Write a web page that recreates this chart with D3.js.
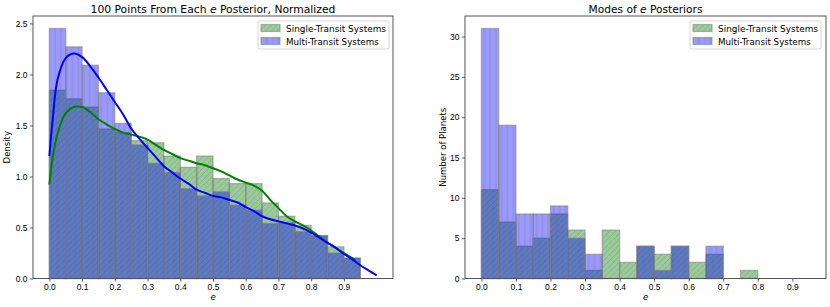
<!DOCTYPE html>
<html>
<head>
<meta charset="utf-8">
<script src="https://cdn.jsdelivr.net/npm/d3@7"></script>
<style>
  body { margin: 0; background: #fff; }
  svg { font-family: "DejaVu Sans", sans-serif; }
</style>
</head>
<body>
<script>
'use strict';

// bins of width 0.05 starting at 0
const binEdges = d3.range(0, 19).map((i) => i * 0.05);
const binWidth = 0.05;

// left panel: density of 100 posterior draws per planet
const densitySingle = [1.845, 1.76, 1.68, 1.465, 1.43, 1.35, 1.33, 1.20, 1.09, 1.20, 0.98, 0.93, 0.93, 0.74, 0.61, 0.52, 0.42, 0.31, 0.20];
const densityMulti = [2.45, 2.27, 2.09, 1.82, 1.52, 1.31, 1.13, 1.04, 0.88, 0.81, 0.85, 0.72, 0.67, 0.54, 0.55, 0.46, 0.42, 0.25, 0.20];

// kde curves
const kdeMultiE = [0, 0.01, 0.025, 0.05, 0.075, 0.1, 0.125, 0.15, 0.175, 0.2, 0.225, 0.25, 0.275, 0.3, 0.325, 0.35, 0.375, 0.4, 0.425, 0.45, 0.475, 0.5, 0.525, 0.55, 0.575, 0.6, 0.625, 0.65, 0.675, 0.7, 0.725, 0.75, 0.775, 0.8, 0.825, 0.85, 0.875, 0.9, 0.925, 0.95, 0.975, 1.0];
const kdeMultiY = [1.20, 1.55, 1.95, 2.16, 2.205, 2.17, 2.08, 1.97, 1.85, 1.73, 1.61, 1.47, 1.37, 1.28, 1.19, 1.10, 1.04, 0.98, 0.93, 0.87, 0.84, 0.81, 0.795, 0.77, 0.745, 0.70, 0.66, 0.61, 0.58, 0.56, 0.54, 0.52, 0.49, 0.45, 0.40, 0.35, 0.30, 0.24, 0.19, 0.13, 0.08, 0.03];
const kdeSingleE = [0, 0.01, 0.025, 0.05, 0.075, 0.1, 0.125, 0.15, 0.175, 0.2, 0.225, 0.25, 0.275, 0.3, 0.325, 0.35, 0.375, 0.4, 0.425, 0.45, 0.475, 0.5, 0.525, 0.55, 0.575, 0.6, 0.625, 0.65, 0.675, 0.7, 0.725, 0.75, 0.775, 0.8, 0.825, 0.85, 0.875, 0.9, 0.925, 0.935];
const kdeSingleY = [0.92, 1.18, 1.42, 1.62, 1.68, 1.68, 1.63, 1.56, 1.51, 1.465, 1.43, 1.41, 1.39, 1.36, 1.31, 1.26, 1.22, 1.18, 1.155, 1.13, 1.11, 1.08, 1.05, 1.01, 0.97, 0.94, 0.91, 0.86, 0.77, 0.69, 0.61, 0.56, 0.52, 0.47, 0.41, 0.35, 0.30, 0.25, 0.20, 0.18];

// right panel: counts of posterior modes
const countSingle = [11, 7, 4, 5, 8, 6, 1, 6, 2, 4, 3, 4, 2, 3, 0, 1, 0, 0, 0];
const countMulti = [31, 19, 8, 8, 9, 5, 3, 0, 0, 4, 1, 4, 0, 4, 0, 0, 0, 0, 0];

const xTicks = d3.range(0, 10).map((i) => i / 10);
const densityTicks = [0, 0.5, 1.0, 1.5, 2.0, 2.5];
const countTicks = [0, 5, 10, 15, 20, 25, 30];
const legendLabels = ["Single-Transit Systems", "Multi-Transit Systems"];

(function () {
  const svg = d3.select('body').append('svg')
    .attr('width', 830)
    .attr('height', 307);

  // hatch patterns
  const defs = svg.append('defs');
  const step = 5.8;
  defs.append('pattern')
    .attr('id', 'hatchDiag')
    .attr('patternUnits', 'userSpaceOnUse')
    .attr('width', step).attr('height', step)
    .append('path')
    .attr('d', `M${-step / 2},${step / 2} L${step / 2},${-step / 2} M0,${step} L${step},0 M${step / 2},${step * 1.5} L${step * 1.5},${step / 2}`)
    .attr('stroke', 'gray')
    .attr('stroke-opacity', 0.5)
    .attr('stroke-width', 0.9);
  defs.append('pattern')
    .attr('id', 'hatchVert')
    .attr('patternUnits', 'userSpaceOnUse')
    .attr('width', step).attr('height', step)
    .append('path')
    .attr('d', `M${step / 2},0 V${step}`)
    .attr('stroke', 'gray')
    .attr('stroke-opacity', 0.5)
    .attr('stroke-width', 0.9);

  const styles = [
    { color: 'green', hatch: 'url(#hatchDiag)' },
    { color: 'blue', hatch: 'url(#hatchVert)' }
  ];

  // left panel
  let left = makeAxes({
    x0: 33, x1: 393, y0: 16, y1: 278.5,
    xDomain: [-0.05, 1.05], yDomain: [0, 2.45 * 1.05],
    yTicks: densityTicks, yFormat: d3.format('.1f'),
    ylabel: 'Density', ylabelX: 7,
    titleParts: ['100 Points From Each ', 'e', ' Posterior, Normalized'],
    titleWidth: 245
  });
  drawHist(left, densitySingle, styles[0]);
  drawHist(left, densityMulti, styles[1]);
  drawKde(left, kdeSingleE, kdeSingleY, 'green');
  drawKde(left, kdeMultiE, kdeMultiY, 'blue');
  drawFrame(left);
  drawLegend(left.g, 258, 21);

  // right panel
  let right = makeAxes({
    x0: 465, x1: 826, y0: 16, y1: 278.5,
    xDomain: [-0.0475, 0.9975], yDomain: [0, 31 * 1.05],
    yTicks: countTicks, yFormat: d3.format('d'),
    ylabel: 'Number of Planets', ylabelX: 443,
    titleParts: ['Modes of ', 'e', ' Posteriors'],
    titleWidth: 114
  });
  drawHist(right, countSingle, styles[0]);
  drawHist(right, countMulti, styles[1]);
  drawFrame(right);
  drawLegend(right.g, 690, 21);

  // shrink or grow a text so it spans the width seen in the picture
  function fitWidth(text, size, target) {
    text.style('font-size', size + 'px');
    let len = text.node().getComputedTextLength();
    if (len > 0) {
      text.style('font-size', (size * target / len).toFixed(2) + 'px');
    }
  }

  function makeAxes(opt) {
    let g = svg.append('g');
    let x = d3.scaleLinear().domain(opt.xDomain).range([opt.x0, opt.x1]);
    let y = d3.scaleLinear().domain(opt.yDomain).range([opt.y1, opt.y0]);

    g.append('g')
      .attr('transform', `translate(0,${opt.y1})`)
      .call(d3.axisBottom(x).tickValues(xTicks).tickFormat(d3.format('.1f')).tickSize(3).tickPadding(2.5))
      .call(styleAxis);

    g.append('g')
      .attr('transform', `translate(${opt.x0},0)`)
      .call(d3.axisLeft(y).tickValues(opt.yTicks).tickFormat(opt.yFormat).tickSize(3).tickPadding(2.5))
      .call(styleAxis);

    // title with italic e
    let title = g.append('text')
      .attr('x', (opt.x0 + opt.x1) / 2)
      .attr('y', 12.5)
      .attr('text-anchor', 'middle')
      .attr('fill', '#000');
    opt.titleParts.forEach((t, i) => {
      title.append('tspan').text(t).style('font-style', i === 1 ? 'italic' : 'normal');
    });
    fitWidth(title, 10.5, opt.titleWidth);

    g.append('text')
      .attr('x', (opt.x0 + opt.x1) / 2)
      .attr('y', 300)
      .attr('text-anchor', 'middle')
      .style('font-size', '8.5px')
      .style('font-style', 'italic')
      .text('e');

    g.append('text')
      .attr('transform', `translate(${opt.ylabelX + 3},${(opt.y0 + opt.y1) / 2})rotate(-90)`)
      .attr('text-anchor', 'middle')
      .style('font-size', '8.5px')
      .text(opt.ylabel);

    return { g: g, x: x, y: y, opt: opt };
  }

  function styleAxis(sel) {
    sel.select('.domain').remove();
    sel.selectAll('.tick line').attr('stroke', '#333').attr('stroke-width', 0.8);
    sel.selectAll('.tick text').style('font-size', '8.5px').attr('fill', '#000');
  }

  function drawFrame(ax) {
    let o = ax.opt;
    ax.g.append('rect')
      .attr('x', o.x0).attr('y', o.y0)
      .attr('width', o.x1 - o.x0).attr('height', o.y1 - o.y0)
      .attr('fill', 'none')
      .attr('stroke', '#555')
      .attr('stroke-width', 1);
  }

  function drawHist(ax, values, style) {
    let bars = ax.g.append('g');
    let rows = values.map((v, i) => ({ x: binEdges[i], v: v }));
    let w = ax.x(binWidth) - ax.x(0);
    bars.selectAll('.fill')
      .data(rows)
      .enter()
      .append('rect')
      .attr('x', (d) => ax.x(d.x))
      .attr('y', (d) => ax.y(d.v))
      .attr('width', w)
      .attr('height', (d) => ax.y(0) - ax.y(d.v))
      .attr('fill', style.color)
      .attr('fill-opacity', 0.4);
    bars.selectAll('.hatch')
      .data(rows)
      .enter()
      .append('rect')
      .attr('x', (d) => ax.x(d.x))
      .attr('y', (d) => ax.y(d.v))
      .attr('width', w)
      .attr('height', (d) => ax.y(0) - ax.y(d.v))
      .attr('fill', style.hatch)
      .attr('stroke', 'gray')
      .attr('stroke-opacity', 0.55)
      .attr('stroke-width', 1.3);
  }

  function drawKde(ax, es, ys, color) {
    let line = d3.line()
      .x((d, i) => ax.x(es[i]))
      .y((d) => ax.y(d))
      .curve(d3.curveCatmullRom);
    ax.g.append('path')
      .datum(ys)
      .attr('d', line)
      .attr('fill', 'none')
      .attr('stroke', color)
      .attr('stroke-width', 2);
  }

  function drawLegend(g, lx, ly) {
    let leg = g.append('g').attr('transform', `translate(${lx},${ly})`);
    leg.append('rect')
      .attr('width', 131).attr('height', 28)
      .attr('rx', 2)
      .attr('fill', '#fff').attr('fill-opacity', 0.8)
      .attr('stroke', '#ccc').attr('stroke-width', 0.8);
    styles.forEach((s, i) => {
      let yy = 3.5 + i * 13;
      leg.append('rect')
        .attr('x', 3).attr('y', yy).attr('width', 19).attr('height', 7)
        .attr('fill', s.color).attr('fill-opacity', 0.4);
      leg.append('rect')
        .attr('x', 3).attr('y', yy).attr('width', 19).attr('height', 7)
        .attr('fill', s.hatch)
        .attr('stroke', 'gray').attr('stroke-opacity', 0.55).attr('stroke-width', 1.3);
      let label = leg.append('text')
        .attr('x', 28).attr('y', yy + 7)
        .text(legendLabels[i]);
      // "Single-Transit Systems" spans about 100px in the picture
      fitWidth(label, 8.6, i === 0 ? 100 : 93);
    });
  }
})();
</script>
</body>
</html>
